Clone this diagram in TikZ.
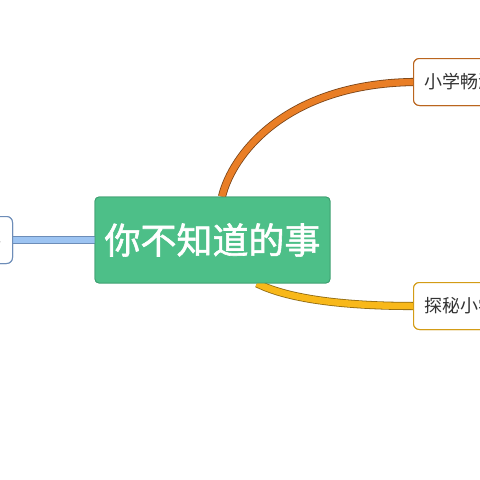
\documentclass[tikz,border=0pt]{standalone}
\usepackage{fontspec}
\newfontfamily\cjk{Noto Sans CJK SC}
\newfontfamily\cjkbold[FakeBold=1.6]{Noto Sans CJK SC}
\definecolor{cgreen}{HTML}{4DBF88}
\definecolor{cgreenb}{HTML}{3C9E70}
\definecolor{cblue}{HTML}{9DC4F2}
\definecolor{cblueb}{HTML}{6D8DB8}
\definecolor{corange}{HTML}{E97E26}
\definecolor{coranged}{HTML}{7A4418}
\definecolor{cyellow}{HTML}{F8B81A}
\definecolor{cyellowd}{HTML}{8F6A12}
\definecolor{ctext}{HTML}{333333}
\begin{document}
\begin{tikzpicture}[x=1pt,y=-1pt,
  mainbox/.style={rectangle, rounded corners=4pt, fill=cgreen, draw=cgreenb, line width=0.8pt,
    minimum width=235pt, minimum height=86pt, inner sep=0pt, text=white,
    font=\cjkbold\fontsize{36}{40}\selectfont},
  subbox/.style={rectangle, rounded corners=6pt, fill=white, line width=1pt,
    minimum height=47pt, inner xsep=11pt, text=ctext,
    font=\cjk\fontsize{18}{21}\selectfont},
  conn/.style={line width=0.8pt, double distance=6.5pt, line cap=butt}
]
\useasboundingbox (0,0) rectangle (480,480);
\clip (0,0) rectangle (480,480);
\fill[white] (0,0) rectangle (480,480);
\node[mainbox] (c) at (212.5,240) {你不知道的事};
\node[subbox, draw=corange!80!black, anchor=west] (t) at (413,82) {小学畅游};
\node[subbox, draw=cyellow!85!black, anchor=west] (b) at (413,306) {探秘小学};
\node[subbox, draw=cblueb, anchor=east] (l) at (13,240) {趣事};
\draw[conn, draw=cblueb, double=cblue] (l.east) -- (c.west);
\draw[conn, draw=coranged, double=corange] ([xshift=9.5pt]c.north) .. controls (232,155) and (285,84) .. (t.west);
\draw[conn, draw=cyellowd, double=cyellow] ([xshift=44.5pt]c.south) .. controls (290,300) and (350,306) .. (b.west);
\node[mainbox] at (c.center) {你不知道的事};
\node[subbox, draw=corange!80!black, anchor=west] at (t.west) {小学畅游};
\node[subbox, draw=cyellow!85!black, anchor=west] at (b.west) {探秘小学};
\node[subbox, draw=cblueb, anchor=east] at (l.east) {趣事};
\end{tikzpicture}
\end{document}
